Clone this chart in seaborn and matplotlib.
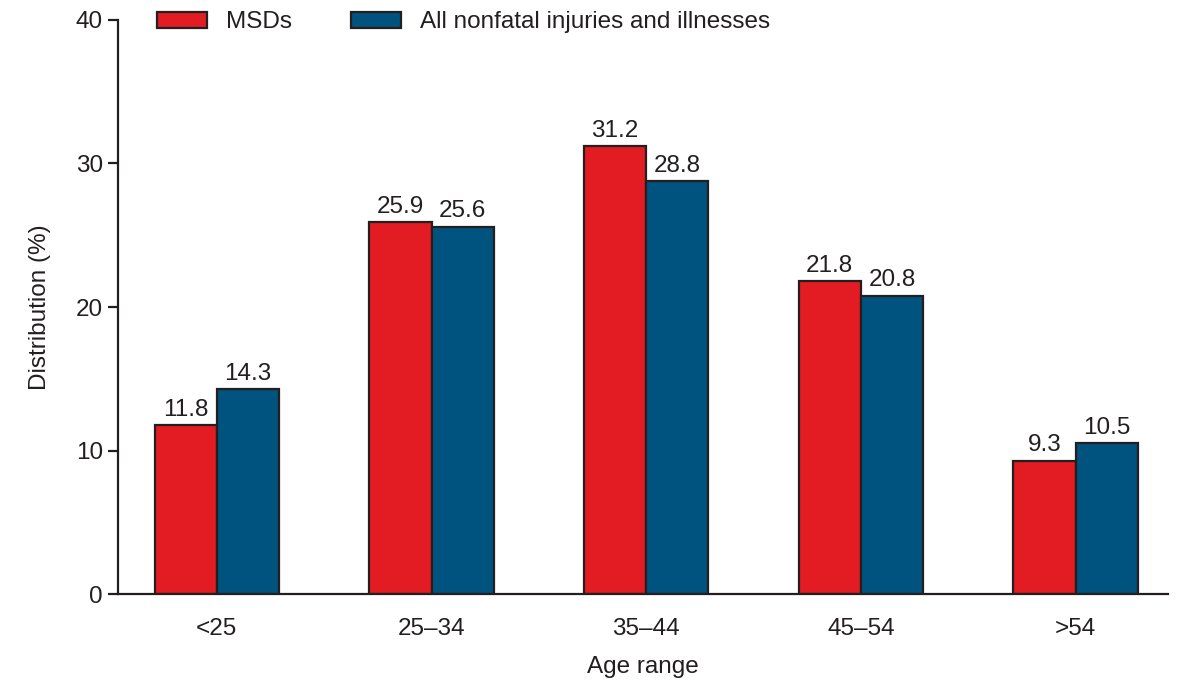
import pandas as pd
import matplotlib
matplotlib.use("Agg")
import matplotlib.pyplot as plt
import seaborn as sns

# data
age_ranges = ['<25', '25\u201334', '35\u201344', '45\u201354', '>54']
msds = [11.8, 25.9, 31.2, 21.8, 9.3]
all_nonfatal = [14.3, 25.6, 28.8, 20.8, 10.5]
series_names = ['MSDs', 'All nonfatal injuries and illnesses']

df = pd.DataFrame({
    'Age range': age_ranges * 2,
    'Distribution': msds + all_nonfatal,
    'Series': [series_names[0]] * len(age_ranges) + [series_names[1]] * len(age_ranges),
})

sns.set_style("white")
plt.rcParams['font.family'] = ['Liberation Sans', 'DejaVu Sans']
FS = 17.5
INK = '#231F20'

fig = plt.figure(figsize=(11.78, 6.82), dpi=100)
ax = fig.add_axes([0.1002, 0.129, 0.8913, 0.8417])

palette = {series_names[0]: '#E31B23', series_names[1]: '#00527F'}
sns.barplot(data=df, x='Age range', y='Distribution', hue='Series',
            palette=palette, width=0.58, edgecolor=INK, linewidth=1.6,
            saturation=1, ax=ax)

# value labels
for cont in ax.containers:
    ax.bar_label(cont, fmt='%.1f', padding=3, fontsize=FS, color=INK)

ax.set_ylim(0, 40)
ax.set_yticks([0, 10, 20, 30, 40])
ax.set_xlim(-0.46, 4.43)
ax.set_xlabel('Age range', fontsize=FS, color=INK, labelpad=11)
ax.set_ylabel('Distribution (%)', fontsize=FS, color=INK, labelpad=18)

ax.tick_params(axis='y', left=True, length=7, width=1.6, color=INK,
               labelsize=FS, labelcolor=INK, pad=4)
ax.tick_params(axis='x', bottom=False, labelsize=FS, labelcolor=INK, pad=14)

for side in ['top', 'right']:
    ax.spines[side].set_visible(False)
for side in ['left', 'bottom']:
    ax.spines[side].set_color(INK)
    ax.spines[side].set_linewidth(1.6)

leg = ax.legend(loc='upper left', bbox_to_anchor=(0.028, 1.032), ncol=2,
                frameon=False, fontsize=FS, handlelength=2.05, handleheight=0.65,
                columnspacing=2.4, handletextpad=0.8, borderaxespad=0)
for t in leg.get_texts():
    t.set_color(INK)

fig.savefig('out.png', dpi=100)
